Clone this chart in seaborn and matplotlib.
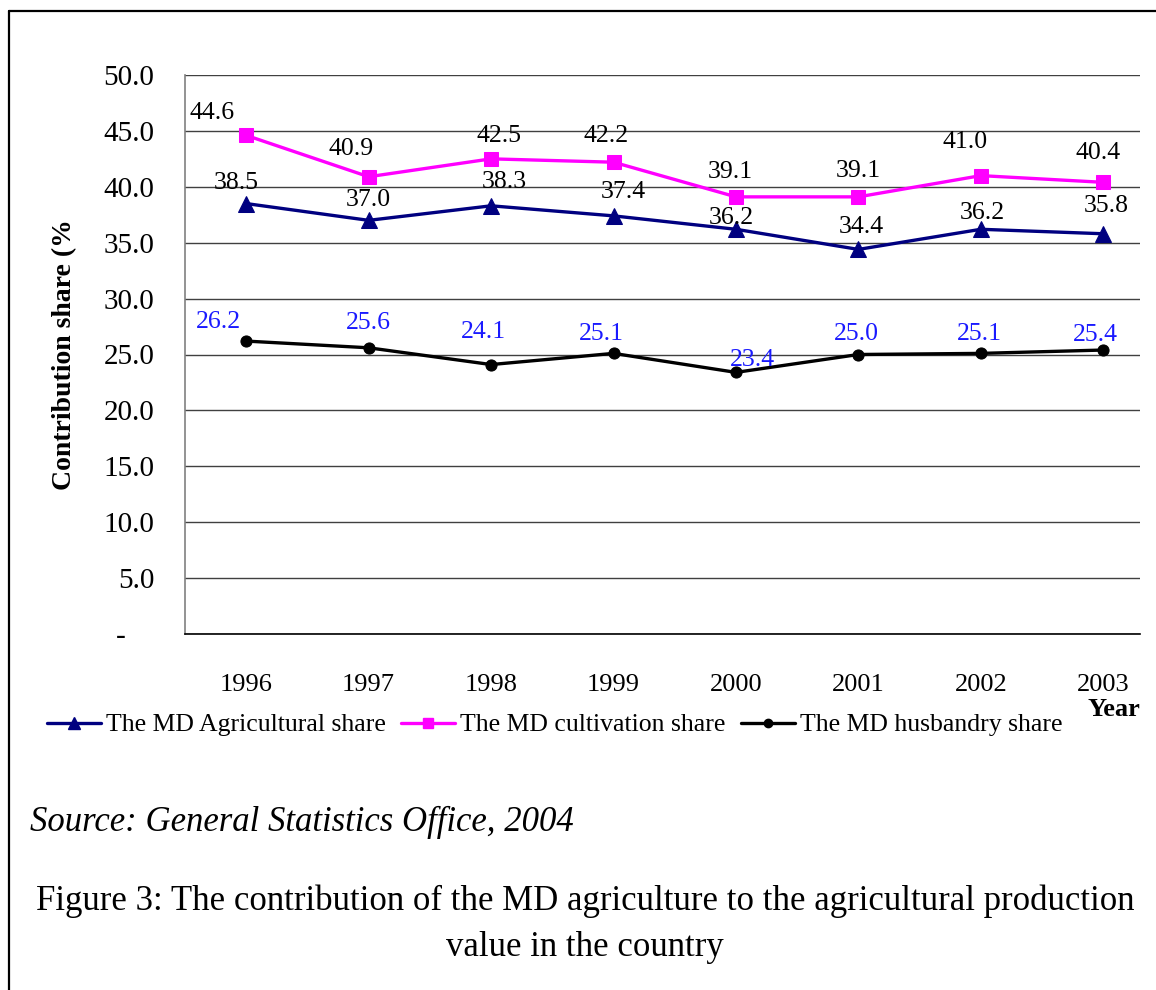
import matplotlib
matplotlib.use("Agg")
import matplotlib.pyplot as plt
import seaborn as sns
import pandas as pd
from matplotlib.lines import Line2D

years = ["1996", "1997", "1998", "1999", "2000", "2001", "2002", "2003"]
agri_share = [38.5, 37.0, 38.3, 37.4, 36.2, 34.4, 36.2, 35.8]
cult_share = [44.6, 40.9, 42.5, 42.2, 39.1, 39.1, 41.0, 40.4]
husb_share = [26.2, 25.6, 24.1, 25.1, 23.4, 25.0, 25.1, 25.4]
series_names = ["The MD Agricultural share", "The MD cultivation share", "The MD husbandry share"]
y_ticks = [0, 5, 10, 15, 20, 25, 30, 35, 40, 45, 50]
y_tick_labels = ["-    ", "5.0", "10.0", "15.0", "20.0", "25.0", "30.0", "35.0", "40.0", "45.0", "50.0"]

# label offsets (pixels, dx, dy-up) - layout only
agri_off = [(-10, 21), (0, 20), (13, 24), (10, 24), (-5, 11), (3, 22), (1, 16), (3, 28)]
cult_off = [(-34, 22), (-18, 28), (8, 23), (-7, 26), (-6, 25), (0, 26), (-16, 34), (-5, 29)]
husb_off = [(-28, 19), (0, 25), (-8, 33), (-12, 19), (16, 12), (-2, 20), (-1, 19), (-8, 15)]

sns.set_style("white")
plt.rcParams["font.family"] = ["Liberation Serif", "DejaVu Serif"]
plt.rcParams["text.color"] = "black"
plt.rcParams["axes.labelcolor"] = "black"
plt.rcParams["xtick.color"] = "black"
plt.rcParams["ytick.color"] = "black"

DPI = 100
fig = plt.figure(figsize=(11.56, 9.9), dpi=DPI)
ax = fig.add_axes([185 / 1156, 1 - 634 / 990, (1140 - 185) / 1156, (634 - 75) / 990])

idx = list(range(len(years)))
df = pd.DataFrame({"x": idx * 3,
                   "value": agri_share + cult_share + husb_share,
                   "series": [series_names[0]] * 8 + [series_names[1]] * 8 + [series_names[2]] * 8})

colors = {series_names[0]: "#000080", series_names[1]: "#FF00FF", series_names[2]: "#000000"}
markers = {series_names[0]: "^", series_names[1]: "s", series_names[2]: "o"}
msizes = {series_names[0]: 11, series_names[1]: 10, series_names[2]: 8}

for name in series_names:
    sub = df[df["series"] == name]
    sns.lineplot(data=sub, x="x", y="value", ax=ax, color=colors[name],
                 marker=markers[name], markersize=msizes[name],
                 markeredgecolor=colors[name], linewidth=2.4, legend=False)

px = 72.0 / DPI
def label(vals, offs, color):
    for i, (v, o) in enumerate(zip(vals, offs)):
        ax.annotate(f"{v:.1f}", (i, v), xytext=(o[0] * px, o[1] * px),
                    textcoords="offset points", ha="center", va="center",
                    fontsize=18.5, color=color)

label(agri_share, agri_off, "#000000")
label(cult_share, cult_off, "#000000")
label(husb_share, husb_off, "#1A1AFF")

ax.set_xlim(-0.5, 7.3)
ax.set_ylim(0, 50)
ax.set_yticks(y_ticks)
ax.set_yticklabels(y_tick_labels)
ax.set_xticks(idx)
ax.set_xticklabels(years)
ax.set_xticks([i - 0.5 for i in idx], minor=True)
ax.tick_params(axis="x", which="major", length=0, pad=29, labelsize=19)
ax.tick_params(axis="x", which="minor", length=8, width=1.2, color="#808080", direction="out")
ax.tick_params(axis="y", length=8, width=1.2, color="#808080", direction="out", pad=14, labelsize=21)
ax.yaxis.grid(True, color="#404040", linewidth=1.0)
ax.xaxis.grid(False)
ax.set_axisbelow(True)
for s in ["top", "right"]:
    ax.spines[s].set_visible(False)
ax.spines["left"].set_color("#808080")
ax.spines["left"].set_linewidth(1.2)
ax.spines["bottom"].set_color("#000000")
ax.spines["bottom"].set_linewidth(1.2)
ax.set_xlabel("")
ax.set_ylabel("Contribution share (%", fontsize=20, fontweight="bold")
ax.yaxis.set_label_coords((77 - 185) / (1140 - 185), (634 - 355) / (634 - 75))

fig.text(1140 / 1156, 1 - 709 / 990, "Year", fontsize=19, fontweight="bold", ha="right", va="center")

handles = [Line2D([0], [0], color=colors[n], marker=markers[n], markersize=msizes[n] * 0.75,
                  linewidth=2.4) for n in series_names]
fig.legend(handles, series_names, loc="center left", bbox_to_anchor=(47 / 1156, 1 - 725 / 990),
           ncol=3, frameon=False, fontsize=18.5, handlelength=2.1, handletextpad=0.2,
           columnspacing=0.6, borderaxespad=0, borderpad=0)

fig.text(30 / 1156, 1 - 822 / 990, "Source: General Statistics Office, 2004",
         fontsize=25, style="italic", ha="left", va="center")
fig.text(585 / 1156, 1 - 901 / 990,
         "Figure 3: The contribution of the MD agriculture to the agricultural production",
         fontsize=25, ha="center", va="center")
fig.text(585 / 1156, 1 - 947 / 990, "value in the country", fontsize=25, ha="center", va="center")

fig.add_artist(Line2D([9 / 1156, 9 / 1156], [0, 1 - 11 / 990], transform=fig.transFigure,
                      color="black", linewidth=1.6))
fig.add_artist(Line2D([9 / 1156, 1], [1 - 11 / 990, 1 - 11 / 990], transform=fig.transFigure,
                      color="black", linewidth=1.6))

fig.savefig("out.png", dpi=DPI)
